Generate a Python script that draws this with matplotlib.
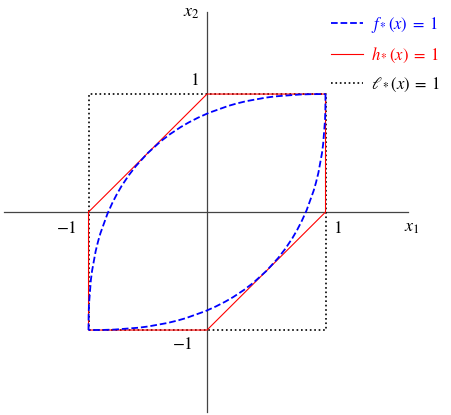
import matplotlib
matplotlib.use("Agg")
import matplotlib.pyplot as plt

plt.rcParams['mathtext.fontset'] = 'stix'
plt.rcParams['font.family'] = 'STIXGeneral'

# level set f_*(x) = 1, upper arc from (-1,-1) to (1,1)
f_up_x = [-1.0, -0.999, -0.996, -0.98, -0.97, -0.94, -0.92, -0.90, -0.84, -0.80,
          -0.76, -0.72, -0.66, -0.60, -0.5, -0.390, -0.312, -0.222, -0.153, -0.075,
          0.014, 0.181, 0.251, 0.333, 0.498, 0.575, 0.781, 0.877, 1.0]
f_up_y = [-1.0, -0.877, -0.781, -0.575, -0.498, -0.333, -0.251, -0.181, -0.014, 0.075,
          0.153, 0.222, 0.312, 0.390, 0.5, 0.60, 0.66, 0.72, 0.76, 0.80,
          0.84, 0.90, 0.92, 0.94, 0.97, 0.98, 0.996, 0.999, 1.0]
# lower arc from (1,1) to (-1,-1)
f_lo_x = [1.0, 0.999, 0.996, 0.98, 0.97, 0.94, 0.92, 0.90, 0.84, 0.80,
          0.76, 0.72, 0.66, 0.60, 0.5, 0.390, 0.312, 0.222, 0.153, 0.075,
          -0.014, -0.181, -0.251, -0.333, -0.498, -0.575, -0.781, -0.877, -1.0]
f_lo_y = [1.0, 0.877, 0.781, 0.575, 0.498, 0.333, 0.251, 0.181, 0.014, -0.075,
          -0.153, -0.222, -0.312, -0.390, -0.5, -0.60, -0.66, -0.72, -0.76, -0.80,
          -0.84, -0.90, -0.92, -0.94, -0.97, -0.98, -0.996, -0.999, -1.0]

# h_*(x) = 1 hexagon
h_x = [-1, 0, 1, 1, 0, -1, -1]
h_y = [0, 1, 1, 0, -1, -1, 0]

# l_*(x) = 1 square
l_x = [-1, 1, 1, -1, -1]
l_y = [-1, -1, 1, 1, -1]

fig = plt.figure(figsize=(4.51, 4.15), dpi=100)
ax = fig.add_axes([0, 0, 1, 1])
ax.set_xlim(-1.747, 2.059)
ax.set_ylim(-1.720, 1.797)
ax.axis('off')

# coordinate axes
ax.plot([-1.71, 1.70], [0, 0], color='#444444', lw=0.9, zorder=1)
ax.plot([0, 0], [-1.695, 1.695], color='#444444', lw=0.9, zorder=1)
ax.text(1.66, -0.07, r'$x_1$', fontsize=13, ha='left', va='top')
ax.text(-0.06, 1.69, r'$x_2$', fontsize=13, ha='right', va='center')

# tick labels
ax.text(1.06, -0.08, r'$1$', fontsize=12.5, ha='left', va='top')
ax.text(-1.10, -0.08, r'$-1$', fontsize=12.5, ha='right', va='top')
ax.text(-0.07, 1.04, r'$1$', fontsize=12.5, ha='right', va='bottom')
ax.text(-0.12, -1.06, r'$-1$', fontsize=12.5, ha='right', va='top')

ax.plot(l_x, l_y, color='black', ls=':', lw=1.2, label=r'$\ell_*(x)\;=\;1$', zorder=2)
ax.plot(h_x, h_y, color='red', lw=0.8, label=r'$h_*(x)\;=\;1$', zorder=3)
ax.plot(f_up_x, f_up_y, color='blue', ls='--', lw=1.3, label=r'$f_*(x)\;=\;1$', zorder=4)
ax.plot(f_lo_x, f_lo_y, color='blue', ls='--', lw=1.3, zorder=4)

handles, labels = ax.get_legend_handles_labels()
order = [2, 1, 0]
ax.legend([handles[i] for i in order], [labels[i] for i in order],
          loc='upper right', bbox_to_anchor=(1.01, 1.0), frameon=False,
          fontsize=12, labelcolor='linecolor', handlelength=1.9,
          handletextpad=0.5, labelspacing=0.65)

fig.savefig('out.png', dpi=100)
